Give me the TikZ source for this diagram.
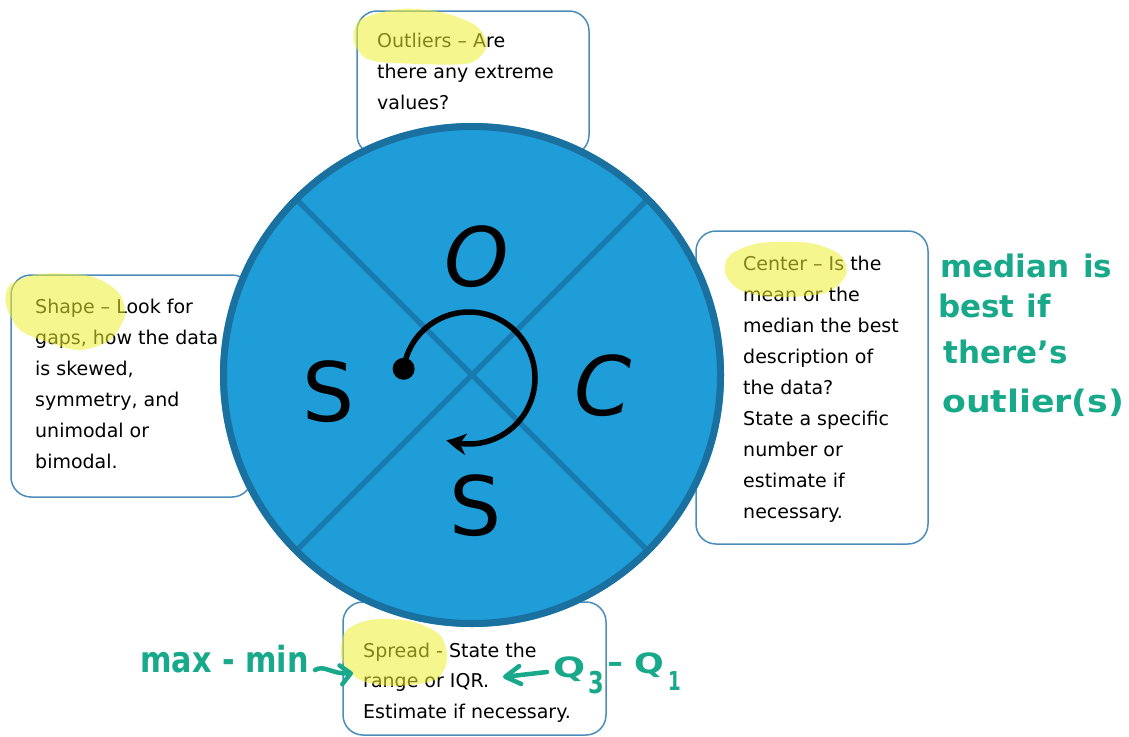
\documentclass[tikz,border=0pt]{standalone}
\usepackage{fontspec}
\setmainfont{DejaVu Sans}
\usepackage{graphicx}
\usetikzlibrary{arrows.meta,bending}
\definecolor{boxline}{RGB}{74,141,186}
\definecolor{discfill}{RGB}{31,157,216}
\definecolor{discring}{RGB}{26,113,160}
\definecolor{discline}{RGB}{24,122,175}
\definecolor{hl}{RGB}{240,240,50}
\definecolor{ink}{RGB}{24,168,138}
\begin{document}
\begin{tikzpicture}[x=1pt,y=-1pt,
  infobox/.style={draw=boxline, line width=1.5pt, rounded corners=20pt, fill=white},
  txt/.style={anchor=base west, inner sep=0pt, font=\fontsize{19}{23}\selectfont, text=black},
  hilite/.style={fill=hl, fill opacity=0.55, draw=none},
  big/.style={inner sep=0pt, font=\fontsize{82}{90}\selectfont},
  hand/.style={text=ink, inner sep=0pt, anchor=base west, font=\bfseries\fontsize{31}{35}\selectfont},
  inkline/.style={draw=ink, line width=4.5pt, line cap=round, line join=round}]
\useasboundingbox (0,0) rectangle (1129,736);
\fill[white] (0,0) rectangle (1129,736);

% boxes
\draw[infobox] (357,11) rectangle (589,155);
\draw[infobox] (11,275) rectangle (252,497);
\draw[infobox] (696,231) rectangle (928,544);
\draw[infobox] (343,602) rectangle (606,735);

% texts
\foreach \t [count=\i] in {{Outliers – Are},{there any extreme},{values?}}
  \node[txt] (out\i) at (377,{47+31*(\i-1)}) {\t};
\foreach \t [count=\i] in {{Shape – Look for},{gaps, how the data},{is skewed,},{symmetry, and},{unimodal or},{bimodal.}}
  \node[txt] (sha\i) at (35,{313+31*(\i-1)}) {\t};
\foreach \t [count=\i] in {{Center – Is the},{mean or the},{median the best},{description of},{the data?},{State a specific},{number or},{estimate if},{necessary.}}
  \node[txt] (cen\i) at (743,{270+31*(\i-1)}) {\t};
\foreach \t [count=\i] in {{Spread - State the},{range or IQR.},{Estimate if necessary.}}
  \node[txt] (spr\i) at (363,{657+30.5*(\i-1)}) {\t};

% highlights
\fill[hilite] plot[smooth cycle] coordinates {(360,20) (400,9) (440,12) (475,25) (487,45) (470,63) (420,64) (370,60) (354,42)};
\fill[hilite] plot[smooth cycle] coordinates {(10,285) (40,274) (90,276) (118,292) (125,315) (110,340) (80,350) (50,343) (20,330) (6,305)};
\fill[hilite] plot[smooth cycle] coordinates {(730,255) (760,243) (810,243) (840,255) (846,275) (825,293) (775,297) (740,290) (725,273)};
\fill[hilite] plot[smooth cycle] coordinates {(345,632) (370,620) (410,621) (440,635) (447,660) (435,680) (395,686) (360,680) (342,660)};

% disc
\coordinate (c) at (472,375);
\fill[discfill] (c) circle[radius=252];
\draw[discline, line width=5.5pt] ([shift={(225:246)}]c) -- ([shift={(45:246)}]c);
\draw[discline, line width=5.5pt] ([shift={(135:246)}]c) -- ([shift={(-45:246)}]c);
\draw[discring, line width=7pt] (c) circle[radius=248.5];

% letters
\node[big] (lO) at (477,257) {\itshape O};
\node[big] (lS1) at (329,392) {S};
\node[big] (lC) at (603,386) {\itshape C};
\node[big] (lS2) at (476,506) {S};

% cycle arrow
\coordinate (ac) at (469,378);
\coordinate (astart) at ([shift={(-172:66)}]ac);
\fill (astart) circle[radius=11];
\draw[line width=5.5pt, -{Stealth[length=20pt,width=21pt,inset=6pt,bend]}] (astart) arc[start angle=-172, end angle=110, radius=66];

% handwritten notes
\node[hand] (med1) at (940,277) {median\hspace{14pt}is};
\node[hand] (med2) at (938,317) {best\hspace{12pt}if};
\node[hand] (med3) at (943,363) {there's};
\node[hand] (med4) at (942,412) {\scalebox{1.12}[1]{outlier(s)}};

\node[hand, font=\bfseries\fontsize{36}{40}\selectfont] (mm) at (140,672) {\scalebox{0.84}[1]{max - min}};
\coordinate (mmS) at (315,670);
\coordinate (mmT) at (353,673);
\draw[inkline, -{Straight Barb[round,length=10pt,width=19pt]}] (mmS) .. controls (325,664) and (333,676) .. (mmT);

\node[hand, font=\bfseries\fontsize{28}{30}\selectfont] (q3) at (553,677) {\scalebox{1.35}[1]{Q}};
\node[hand, font=\bfseries\fontsize{30}{30}\selectfont] (s3) at (588,693) {\scalebox{0.75}[1]{3}};
\node[hand, font=\bfseries\fontsize{28}{30}\selectfont] (qd) at (607,672) {\scalebox{1.4}[1]{-}};
\node[hand, font=\bfseries\fontsize{28}{30}\selectfont] (q1) at (634,673) {\scalebox{1.25}[1]{Q}};
\node[hand, font=\bfseries\fontsize{26}{30}\selectfont] (s1) at (668,690) {\scalebox{0.7}[1]{1}};
\coordinate (qS) at (547,672);
\coordinate (qT) at (503,677);
\draw[inkline, -{Straight Barb[round,length=15pt,width=18pt]}] (qS) -- (qT);
\end{tikzpicture}
\end{document}
